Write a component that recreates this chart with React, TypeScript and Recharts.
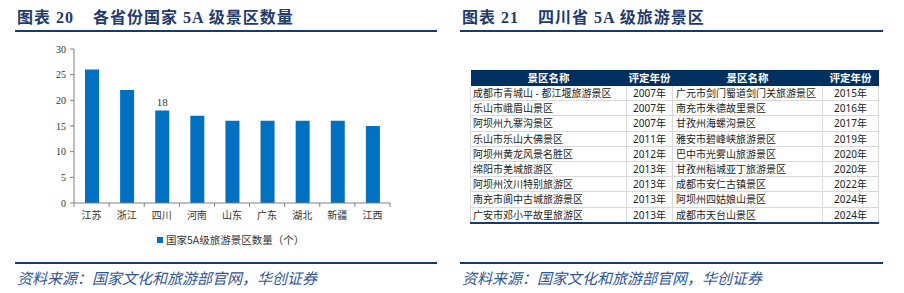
import { BarChart, Bar, XAxis, YAxis, LabelList } from "recharts";

const provinces = ["江苏", "浙江", "四川", "河南", "山东", "广东", "湖北", "新疆", "江西"];
const counts = [26, 22, 18, 17, 16, 16, 16, 16, 15];
const shownLabels = [null, null, 18, null, null, null, null, null, null];
const yTicks = [0, 5, 10, 15, 20, 25, 30];

const leftNames = [
  "成都市青城山 - 都江堰旅游景区",
  "乐山市峨眉山景区",
  "阿坝州九寨沟景区",
  "乐山市乐山大佛景区",
  "阿坝州黄龙风景名胜区",
  "绵阳市羌城旅游区",
  "阿坝州汶川特别旅游区",
  "南充市阆中古城旅游景区",
  "广安市邓小平故里旅游区",
];
const leftYears = ["2007年", "2007年", "2007年", "2011年", "2012年", "2013年", "2013年", "2013年", "2013年"];
const rightNames = [
  "广元市剑门蜀道剑门关旅游景区",
  "南充市朱德故里景区",
  "甘孜州海螺沟景区",
  "雅安市碧峰峡旅游景区",
  "巴中市光雾山旅游景区",
  "甘孜州稻城亚丁旅游景区",
  "成都市安仁古镇景区",
  "阿坝州四姑娘山景区",
  "成都市天台山景区",
];
const rightYears = ["2015年", "2016年", "2017年", "2019年", "2020年", "2020年", "2022年", "2024年", "2024年"];
const headers = ["景区名称", "评定年份", "景区名称", "评定年份"];

const chartData = provinces.map((name, i) => ({
  name,
  count: counts[i],
  label: shownLabels[i],
}));

const NAVY = "#1F3A6B";
const RULE = "#0E3C7E";
const BAR = "#0070C0";
const CJK = '"Noto Sans CJK SC", sans-serif';
const TABLE_FONT = '"Noto Sans", "Noto Sans CJK SC", sans-serif';
const SERIF = '"Liberation Serif", "Noto Sans CJK SC", serif';

const PLOT_LEFT = 74;
const PLOT_RIGHT = 390;
const band = (PLOT_RIGHT - PLOT_LEFT) / provinces.length;

function CategoryTick(props: any) {
  const { x, y, payload, index } = props;
  const left = x - band / 2;
  return (
    <g>
      <line x1={left} y1={y} x2={left} y2={y + 4} stroke="#808080" />
      {index === provinces.length - 1 && (
        <line x1={left + band} y1={y} x2={left + band} y2={y + 4} stroke="#808080" />
      )}
      <text x={x} y={y + 16} textAnchor="middle" fontSize={10} fontFamily={CJK} fill="#333">
        {payload.value}
      </text>
    </g>
  );
}

function Title({ left, num, text }: { left: number; num: string; text: string }) {
  return (
    <div
      style={{
        position: "absolute",
        left,
        top: 7,
        fontFamily: SERIF,
        fontWeight: 700,
        fontSize: 16,
        lineHeight: "22px",
        color: NAVY,
        whiteSpace: "pre",
        letterSpacing: 1,
      }}
    >
      <span>{"图表 " + num}</span>
      <span style={{ marginLeft: 19 }}>{text}</span>
    </div>
  );
}

function Rule({ left, top, width, h }: { left: number; top: number; width: number; h: number }) {
  return <div style={{ position: "absolute", left, top, width, height: h, background: RULE }} />;
}

function Source({ left }: { left: number }) {
  return (
    <div
      style={{
        position: "absolute",
        left,
        top: 268,
        fontFamily: CJK,
        fontStyle: "italic",
        fontSize: 15,
        lineHeight: "20px",
        color: "#2F5597",
        whiteSpace: "nowrap",
      }}
    >
      资料来源：国家文化和旅游部官网，华创证券
    </div>
  );
}

const colWidths = [156, 46, 150, 56];
const cellBase: React.CSSProperties = {
  fontFamily: TABLE_FONT,
  fontSize: 10,
  lineHeight: "14.2px",
  height: 14.2,
  padding: 0,
  borderBottom: "1px solid #D9D9D9",
  borderRight: "1px solid #D9D9D9",
  color: "#222",
  whiteSpace: "nowrap",
  overflow: "hidden",
};

export default function App() {
  return (
    <div style={{ position: "absolute", left: 0, top: 0, width: 904, height: 293, background: "#fff" }}>
      <Title left={17} num="20" text="各省份国家 5A 级景区数量" />
      <Rule left={15} top={30} width={422} h={2} />
      <Title left={462} num="21" text="四川省 5A 级旅游景区" />
      <Rule left={460} top={30} width={423} h={2} />

      <div style={{ position: "absolute", left: 0, top: 0 }}>
        <BarChart
          width={450}
          height={230}
          data={chartData}
          margin={{ top: 49, right: 450 - PLOT_RIGHT, left: 0, bottom: 7 }}
          barCategoryGap={0}
        >
          <XAxis
            dataKey="name"
            interval={0}
            height={20}
            axisLine={{ stroke: "#808080" }}
            tickLine={false}
            tickSize={0}
            tickMargin={0}
            tick={<CategoryTick />}
          />
          <YAxis
            domain={[0, 30]}
            ticks={yTicks}
            width={PLOT_LEFT}
            interval={0}
            axisLine={{ stroke: "#808080" }}
            tickLine={{ stroke: "#808080" }}
            tickSize={4}
            tickMargin={4}
            tick={{ fontSize: 10, fontFamily: SERIF, fill: "#333" }}
          />
          <Bar dataKey="count" fill={BAR} barSize={14} isAnimationActive={false}>
            <LabelList
              dataKey="label"
              position="top"
              offset={5}
              style={{ fontSize: 11, fontFamily: SERIF, fill: "#333" }}
            />
          </Bar>
        </BarChart>
      </div>

      <div
        style={{
          position: "absolute",
          left: 157,
          top: 232,
          display: "flex",
          alignItems: "center",
          fontFamily: CJK,
          fontSize: 10.5,
          color: "#333",
          whiteSpace: "nowrap",
        }}
      >
        <span style={{ display: "inline-block", width: 6, height: 6, background: BAR, marginRight: 3 }} />
        国家5A级旅游景区数量（个）
      </div>

      <table
        style={{
          position: "absolute",
          left: 470,
          top: 70,
          borderCollapse: "collapse",
          tableLayout: "fixed",
          width: colWidths.reduce((a, b) => a + b, 0),
          borderBottom: `2px solid ${RULE}`,
        }}
      >
        <colgroup>
          {colWidths.map((w, i) => (
            <col key={i} style={{ width: w }} />
          ))}
        </colgroup>
        <thead>
          <tr>
            {headers.map((h, i) => (
              <th
                key={i}
                style={{
                  ...cellBase,
                  fontSize: 10.5,
                  height: 16,
                  lineHeight: "16px",
                  background: "#00305F",
                  color: "#fff",
                  fontWeight: 700,
                  textAlign: "center",
                  borderBottom: "none",
                  borderRight: "none",
                }}
              >
                {h}
              </th>
            ))}
          </tr>
        </thead>
        <tbody>
          {leftNames.map((n, i) => (
            <tr key={i}>
              <td style={{ ...cellBase, paddingLeft: 2, borderLeft: "1px solid #D9D9D9" }}>{n}</td>
              <td style={{ ...cellBase, textAlign: "center" }}>{leftYears[i]}</td>
              <td style={{ ...cellBase, paddingLeft: 3 }}>{rightNames[i]}</td>
              <td style={{ ...cellBase, textAlign: "center" }}>{rightYears[i]}</td>
            </tr>
          ))}
        </tbody>
      </table>

      <Rule left={15} top={262} width={422} h={2} />
      <Rule left={460} top={262} width={423} h={2} />
      <Source left={17} />
      <Source left={462} />
    </div>
  );
}
